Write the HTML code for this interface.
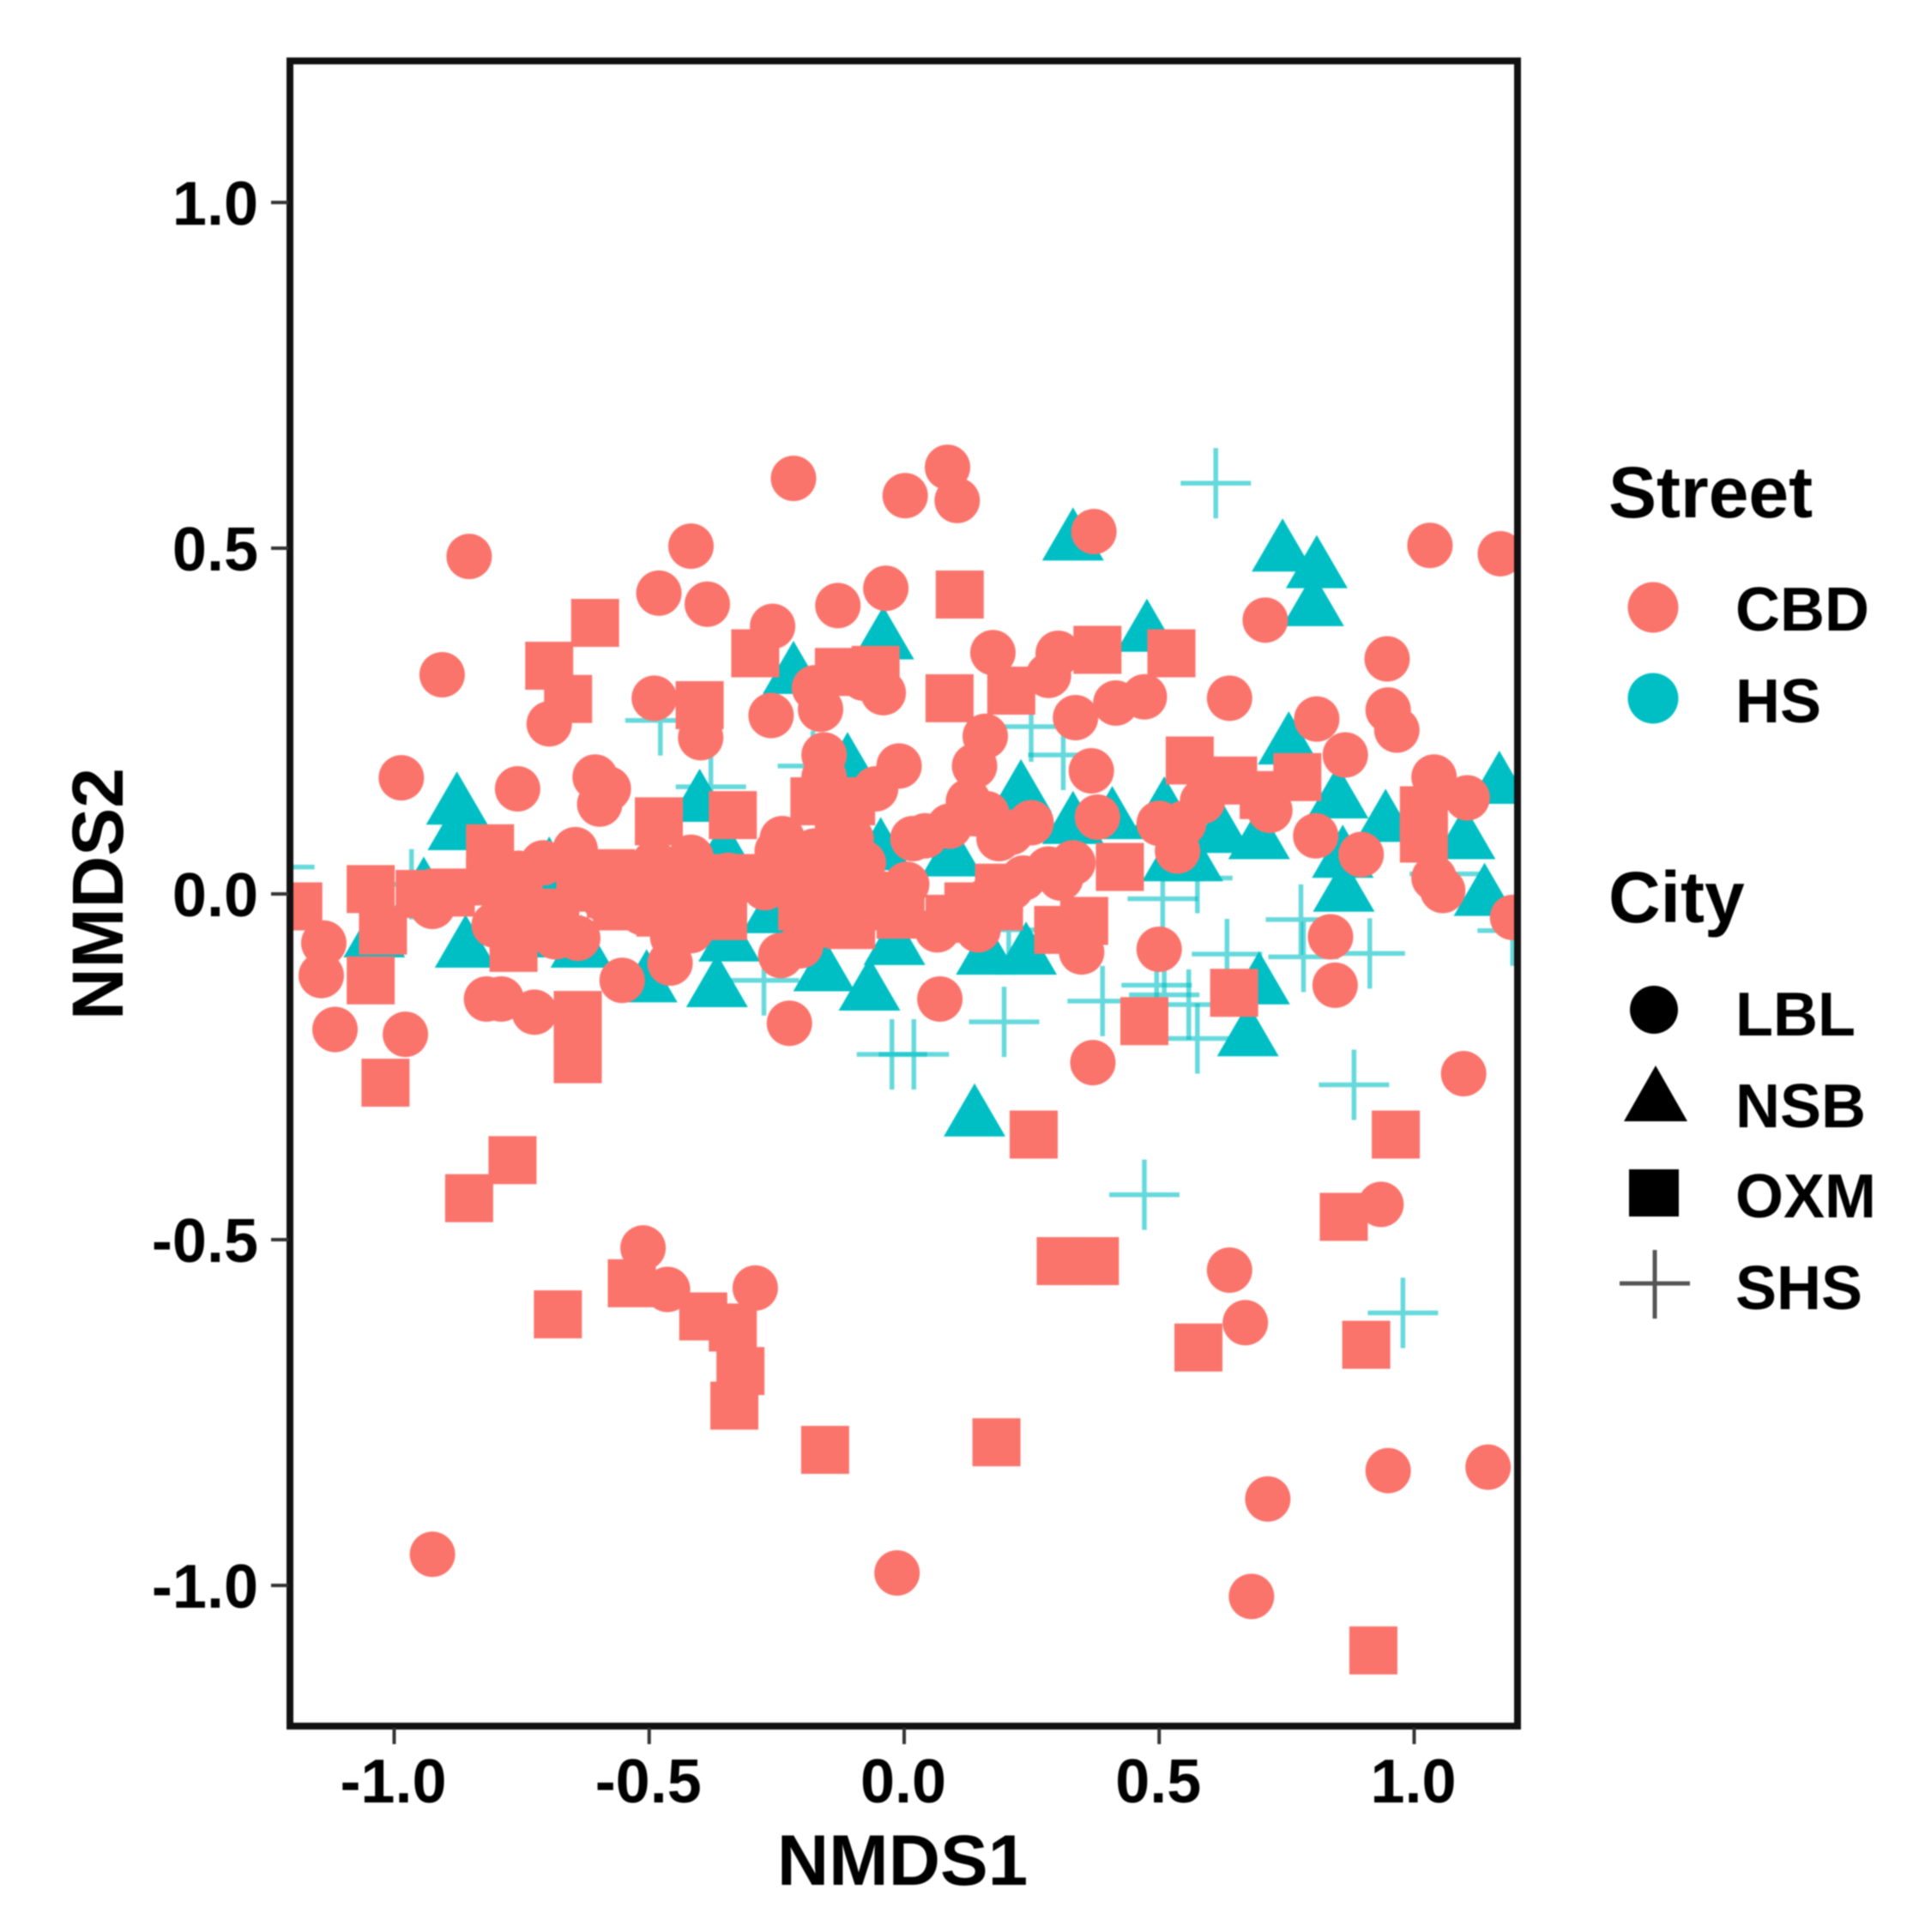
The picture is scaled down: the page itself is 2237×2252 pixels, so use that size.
<!DOCTYPE html>
<html lang="en">
<head>
<meta charset="utf-8">
<title>NMDS ordination by street and city</title>
<style>
html,body{margin:0;padding:0;background:#fff;}
svg{display:block;filter:blur(0.8px);}
text{font-family:"Liberation Sans",Arial,sans-serif;font-weight:bold;fill:#000;}
</style>
</head>
<body>
<svg id="chart" xmlns="http://www.w3.org/2000/svg" width="2237" height="2252" viewBox="0 0 2237 2252">
  <defs><clipPath id="panel-clip"><rect x="338" y="69" width="1431" height="1943"/></clipPath></defs>
  <rect x="0" y="0" width="2237" height="2252" fill="#fff"/>
  <g id="marks" clip-path="url(#panel-clip)"></g>
  <rect x="338" y="71" width="1431" height="1941" fill="none" stroke="#111" stroke-width="8"/>
  <g id="axes"></g>
  <text x="1052" y="2197" font-size="83.5" text-anchor="middle">NMDS1</text>
  <text transform="translate(143,1042) rotate(-90)" font-size="84" text-anchor="middle">NMDS2</text>

  <g>
    <text x="1875" y="603" font-size="84">Street</text>
    <circle cx="1927" cy="708" r="29.5" fill="#FB746C"/>
    <text x="2023" y="735" font-size="72">CBD</text>
    <circle cx="1927" cy="814" r="29.5" fill="#00BFC4"/>
    <text x="2023" y="842" font-size="72">HS</text>
  </g>
  <g>
    <text x="1875" y="1075" font-size="84">City</text>
    <circle cx="1928" cy="1177" r="28" fill="#000"/>
    <text x="2023" y="1207" font-size="72">LBL</text>
    <polygon points="1930,1242 1967,1307 1893,1307" fill="#000"/>
    <text x="2023" y="1314" font-size="72">NSB</text>
    <rect x="1899" y="1363" width="58" height="55" fill="#000"/>
    <text x="2023" y="1419" font-size="72">OXM</text>
    <path d="M1888 1496H1970M1929 1457V1537" stroke="#555" stroke-width="5" fill="none"/>
    <text x="2023" y="1526" font-size="72">SHS</text>
  </g>
</svg>
<script>
const xTicks = [-1.0, -0.5, 0.0, 0.5, 1.0];
const yTicks = [-1.0, -0.5, 0.0, 0.5, 1.0];
const xTickLabels = ["-1.0", "-0.5", "0.0", "0.5", "1.0"];
const yTickLabels = ["-1.0", "-0.5", "0.0", "0.5", "1.0"];

const hsShsPoints = [
[0.611,0.594],[-0.478,0.251],[0.249,0.242],[0.312,0.201],[0.633,-0.087],[0.778,-0.037],[0.783,-0.091],[0.913,-0.086],
[0.507,-0.007],[0.575,0.023],[0.389,-0.155],[0.558,-0.160],[0.495,-0.132],[0.510,-0.146],[0.575,-0.209],[0.882,-0.276],
[0.196,-0.185],[-0.024,-0.232],[0.019,-0.232],[-0.275,-0.125],[0.205,-0.052],[-0.179,0.185],[-0.379,0.155],[-0.966,0.014],
[-1.225,0.039],[0.471,-0.435],[0.978,-0.606],[1.193,-0.053],[1.060,0.029]
];
const hsNsbPoints = [
[0.331,0.512],[0.742,0.496],[0.809,0.472],[0.802,0.417],[0.476,0.380],[-0.041,0.369],[-0.217,0.319],[-0.877,0.130],
[-0.874,0.093],[-0.942,0.007],[-0.860,-0.077],[-1.039,-0.062],[-0.505,-0.127],[-0.633,-0.077],[-0.696,-0.062],[-0.696,0.036],
[-0.367,-0.134],[-0.068,-0.139],[-0.157,-0.111],[-0.019,-0.073],[0.239,-0.087],[0.162,-0.087],[0.138,-0.321],[-0.401,0.134],
[0.229,0.148],[-0.111,0.187],[0.094,0.055],[-0.353,0.061],[-0.258,-0.027],[-0.343,-0.068],[0.331,0.102],[0.754,0.217],
[0.850,0.139],[0.944,0.105],[1.167,0.160],[1.099,0.080],[0.860,0.053],[0.862,0.004],[1.138,-0.002],[0.696,-0.130],
[0.674,-0.205],[0.621,0.089],[0.696,0.080],[0.527,0.048],[0.565,0.048],[0.510,0.123],[0.408,0.109],[-0.046,0.064]
];
const cbdOxmPoints = [
[-0.696,0.330],[-0.659,0.282],[-0.606,0.392],[-0.292,0.348],[-0.401,0.273],[0.089,0.283],[0.109,0.433],[-0.056,0.324],
[-0.128,0.321],[0.210,0.294],[0.379,0.353],[0.524,0.348],[0.560,0.193],[0.645,0.164],[0.771,0.169],[1.019,0.121],
[1.019,0.080],[0.964,-0.348],[0.254,-0.348],[0.307,-0.531],[0.374,-0.531],[0.862,-0.467],[0.577,-0.656],[0.906,-0.652],
[0.647,-0.143],[0.471,-0.184],[-0.155,-0.804],[0.181,-0.793],[0.920,-1.094],[-0.679,-0.608],[-0.534,-0.563],[-0.394,-0.611],
[-0.336,-0.627],[-0.321,-0.690],[-0.333,-0.740],[-0.768,-0.385],[-0.853,-0.440],[-1.017,-0.273],[-1.046,-0.125],[-1.022,-0.053],
[-1.046,0.007],[-1.188,-0.018],[-0.812,0.066],[-0.481,0.105],[-0.336,0.114],[-0.640,-0.239],[-0.640,-0.175],[0.302,-0.052],
[0.353,-0.039],[-0.355,-0.032],[-0.812,0.018],[-0.756,-0.009],[-0.684,-0.027],[-0.635,0.009],[-0.563,-0.018],[-0.478,-0.027],
[-0.418,-0.018],[-0.188,0.027],[-0.128,-0.009],[-0.104,-0.045],[0.089,-0.036],[0.186,0.009],[0.423,0.039],[-0.766,-0.078],[-0.950,0.000],
[-0.889,0.002],[-0.575,0.030],[-0.490,0.027],[-0.406,0.023],[-0.297,0.023],[-0.575,0.000],[-0.418,-0.009],[-0.200,0.018],
[-0.200,-0.018],[-0.128,0.036],[-0.080,-0.018],[-0.007,-0.030],[0.126,-0.018],[0.186,-0.018],[0.705,0.143],[-0.176,0.134],
[-0.104,0.134],[-0.128,0.102]
];
const cbdLblPoints = [
[-0.217,0.601],[0.085,0.617],[0.002,0.576],[0.104,0.569],[0.372,0.524],[-0.853,0.488],[-0.418,0.503],[-0.481,0.435],
[-0.386,0.419],[-0.130,0.417],[-0.036,0.442],[1.031,0.504],[1.169,0.492],[0.708,0.396],[-0.258,0.387],[0.174,0.349],
[0.947,0.340],[-0.906,0.317],[-0.490,0.283],[-0.399,0.226],[-0.261,0.258],[-0.696,0.246],[-0.176,0.298],[-0.164,0.267],
[-0.116,0.321],[-0.080,0.312],[-0.041,0.291],[0.638,0.283],[0.336,0.255],[0.415,0.276],[0.471,0.285],[0.302,0.348],
[0.283,0.316],[0.949,0.266],[0.966,0.237],[0.809,0.253],[0.865,0.201],[-0.986,0.168],[-0.758,0.152],[-0.606,0.169],
[-0.580,0.152],[-0.597,0.130],[0.159,0.228],[0.138,0.185],[-0.157,0.201],[-0.157,0.169],[-0.010,0.185],[0.367,0.178],
[0.379,0.111],[1.039,0.169],[1.104,0.139],[0.717,0.121],[0.807,0.084],[0.896,0.057],[1.039,0.023],[1.056,0.005],
[0.836,-0.062],[0.845,-0.132],[1.193,-0.034],[1.097,-0.260],[0.935,-0.449],[0.638,-0.544],[0.669,-0.620],[1.145,-0.829],
[0.949,-0.834],[0.713,-0.875],[0.681,-1.016],[-0.014,-0.982],[-0.925,-0.955],[-0.512,-0.512],[-0.464,-0.572],[-0.292,-0.570],
[0.370,-0.244],[0.500,-0.080],[0.070,-0.152],[-0.225,-0.187],[-0.978,-0.203],[-1.116,-0.196],[-1.143,-0.118],[-1.138,-0.071],
[-0.925,-0.018],[-0.819,-0.152],[-0.790,-0.152],[-0.725,-0.171],[-0.768,-0.071],[-0.640,-0.064],[-0.553,-0.125],[-0.459,-0.100],
[-0.645,0.064],[-0.708,0.045],[-0.539,0.027],[-0.490,0.045],[-0.418,0.053],[-0.345,0.027],[-0.249,0.062],[-0.239,0.080],
[-0.273,0.009],[-0.176,0.062],[-0.104,0.080],[-0.080,0.045],[0.017,0.080],[0.005,0.014],[0.089,0.098],[0.138,0.116],
[0.186,0.080],[0.249,0.103],[0.283,0.036],[0.331,0.045],[0.500,0.102],[0.548,0.102],[0.536,0.062],[0.585,0.134],
[0.210,0.009],[-0.732,-0.027],[-0.804,-0.045],[-0.684,-0.062],[-0.587,-0.009],[-0.514,-0.027],[-0.454,-0.062],[-0.242,-0.089],
[-0.203,-0.075],[-0.104,-0.027],[-0.043,0.000],[0.065,-0.052],[0.145,-0.052],[0.162,-0.009],[0.348,-0.084],[-0.418,-0.053],
[-0.756,0.030],[-0.152,-0.045],[-0.019,0.000],[0.041,0.084],[0.126,0.134],[0.162,0.116],[0.210,0.089],[0.234,0.023],
[0.307,0.023],[-0.056,0.152],[-0.225,0.009]
];

const NS = "http://www.w3.org/2000/svg";
const CBD_COLOR = "#FB746C";
const HS_COLOR = "#00BFC4";
const xScale = v => 1054 + 594.5 * v;
const yScale = v => 1042 - 806 * v;
const marks = document.getElementById("marks");
const axes = document.getElementById("axes");

hsShsPoints.forEach(p => {
  const x = xScale(p[0]), y = yScale(p[1]);
  const el = document.createElementNS(NS, "path");
  
  
  el.setAttribute("d", `M${x - 41} ${y}H${x + 41}M${x} ${y - 41}V${y + 41}`);
  el.setAttribute("stroke", HS_COLOR);
  el.setAttribute("stroke-width", "5.5");
  el.setAttribute("stroke-opacity", "0.6");
  el.setAttribute("fill", "none");
  marks.appendChild(el);
});
hsNsbPoints.forEach(p => {
  const x = xScale(p[0]), y = yScale(p[1]);
  const el = document.createElementNS(NS, "polygon");
  
  
  el.setAttribute("points", `${x},${y - 38} ${x + 36},${y + 24} ${x - 36},${y + 24}`);
  el.setAttribute("fill", HS_COLOR);
  marks.appendChild(el);
});
cbdOxmPoints.forEach(p => {
  const x = xScale(p[0]), y = yScale(p[1]);
  const el = document.createElementNS(NS, "rect");
  
  
  el.setAttribute("x", x - 28);
  el.setAttribute("y", y - 28);
  el.setAttribute("width", 56);
  el.setAttribute("height", 56);
  el.setAttribute("fill", CBD_COLOR);
  marks.appendChild(el);
});
cbdLblPoints.forEach(p => {
  const el = document.createElementNS(NS, "circle");
  
  
  el.setAttribute("cx", xScale(p[0]));
  el.setAttribute("cy", yScale(p[1]));
  el.setAttribute("r", 26.5);
  el.setAttribute("fill", CBD_COLOR);
  marks.appendChild(el);
});

xTicks.forEach((v, i) => {
  const x = xScale(v);
  const tick = document.createElementNS(NS, "line");
  
  
  tick.setAttribute("x1", x);
  tick.setAttribute("x2", x);
  tick.setAttribute("y1", 2014);
  tick.setAttribute("y2", 2033);
  tick.setAttribute("stroke", "#333");
  tick.setAttribute("stroke-width", "4");
  axes.appendChild(tick);
  const label = document.createElementNS(NS, "text");
  
  
  label.setAttribute("x", x - 1);
  label.setAttribute("y", 2101);
  label.setAttribute("font-size", "72");
  label.setAttribute("text-anchor", "middle");
  label.textContent = xTickLabels[i];
  axes.appendChild(label);
});
yTicks.forEach((v, i) => {
  const y = yScale(v);
  const tick = document.createElementNS(NS, "line");
  
  
  tick.setAttribute("x1", 316);
  tick.setAttribute("x2", 336);
  tick.setAttribute("y1", y);
  tick.setAttribute("y2", y);
  tick.setAttribute("stroke", "#333");
  tick.setAttribute("stroke-width", "4");
  axes.appendChild(tick);
  const label = document.createElementNS(NS, "text");
  
  
  label.setAttribute("x", 301);
  label.setAttribute("y", y + 26);
  label.setAttribute("font-size", "72");
  label.setAttribute("text-anchor", "end");
  label.textContent = yTickLabels[i];
  axes.appendChild(label);
});
</script>
</body>
</html>
